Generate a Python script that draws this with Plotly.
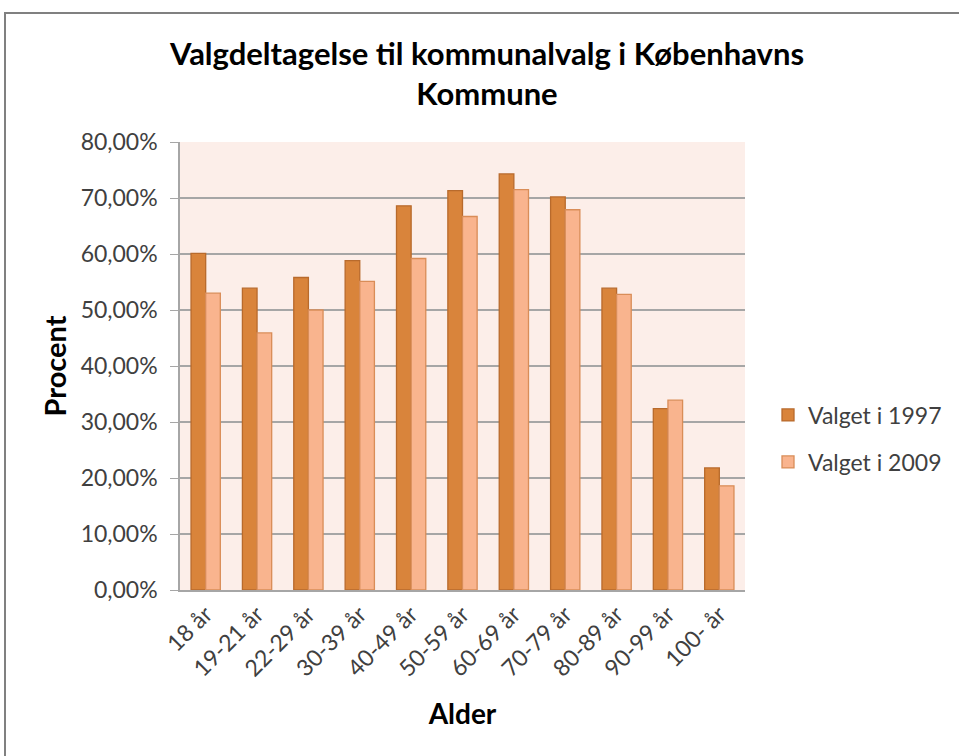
import plotly.graph_objects as go

categories = ["18 år", "19-21 år", "22-29 år", "30-39 år", "40-49 år", "50-59 år",
              "60-69 år", "70-79 år", "80-89 år", "90-99 år", "100- år"]
valg_1997 = [60.1, 53.9, 55.8, 58.8, 68.6, 71.3, 74.3, 70.2, 53.9, 32.4, 21.8]
valg_2009 = [53.0, 45.9, 50.0, 55.1, 59.2, 66.7, 71.5, 67.9, 52.8, 33.9, 18.6]
y_ticks = [0, 10, 20, 30, 40, 50, 60, 70, 80]
y_tick_text = ["0,00%", "10,00%", "20,00%", "30,00%", "40,00%", "50,00%", "60,00%", "70,00%", "80,00%"]

W, H = 959, 756
L, R, T, B = 180, 745, 142, 590
FONT = "Lato"

fig = go.Figure()
fig.add_trace(go.Bar(
    x=categories, y=valg_1997, name="Valget i 1997",
    marker=dict(color="#D9843B", line=dict(color="#B86A2C", width=1.3)),
    legend="legend",
))
fig.add_trace(go.Bar(
    x=categories, y=valg_2009, name="Valget i 2009",
    marker=dict(color="#F9B48E", line=dict(color="#D98D58", width=1.3)),
    legend="legend2",
))

def px_to_paper_x(px):
    return (px - L) / (R - L)

def px_to_paper_y(py):
    return (B - py) / (B - T)

fig.update_layout(
    width=W, height=H,
    margin=dict(l=L, r=W - R, t=T, b=H - B, autoexpand=False),
    paper_bgcolor="white",
    plot_bgcolor="#FCEEE9",
    barmode="group",
    bargap=0.43,
    bargroupgap=0.0,
    font=dict(family=FONT, color="#404040"),
    title=dict(
        text="<b>Valgdeltagelse til kommunalvalg i Københavns<br>Kommune</b>",
        font=dict(family=FONT, size=31, color="black"),
        x=487 / W, xanchor="center",
        y=1 - 65 / H, yanchor="middle",
    ),
    xaxis=dict(
        tickangle=-45,
        tickfont=dict(family=FONT, size=23, color="#404040"),
        showline=True, linecolor="#A6A6A6", linewidth=1.5,
        ticks="", showgrid=False,
        title=dict(text="<b>Alder</b>", font=dict(family=FONT, size=28, color="black"), standoff=24),
    ),
    yaxis=dict(
        range=[0, 80],
        tickvals=y_ticks, ticktext=y_tick_text,
        tickfont=dict(family=FONT, size=23, color="#404040"),
        showgrid=True, gridcolor="#A6A6A6", gridwidth=1.5,
        showline=True, linecolor="#A6A6A6", linewidth=1.5,
        ticks="outside", ticklen=8, tickcolor="#A6A6A6",
        ticklabelstandoff=8,
        zeroline=False,
        title=dict(text="<b>Procent</b>", font=dict(family=FONT, size=29, color="black"), standoff=5),
    ),
    legend=dict(
        x=px_to_paper_x(768), y=px_to_paper_y(415), xanchor="left", yanchor="middle",
        font=dict(family=FONT, size=23, color="#404040"),
        bgcolor="rgba(0,0,0,0)",
    ),
    legend2=dict(
        x=px_to_paper_x(768), y=px_to_paper_y(462), xanchor="left", yanchor="middle",
        font=dict(family=FONT, size=23, color="#404040"),
        bgcolor="rgba(0,0,0,0)",
    ),
    showlegend=True,
)

# outer chart border
fig.add_shape(
    type="rect", xref="paper", yref="paper",
    x0=px_to_paper_x(5), x1=px_to_paper_x(985),
    y0=px_to_paper_y(790), y1=px_to_paper_y(13),
    line=dict(color="#808080", width=2), fillcolor="rgba(0,0,0,0)", layer="below",
)

fig.write_html(
    "out.html",
    config={"displayModeBar": False},
    post_script="document.body.style.margin='0';document.body.style.overflow='hidden';",
)
